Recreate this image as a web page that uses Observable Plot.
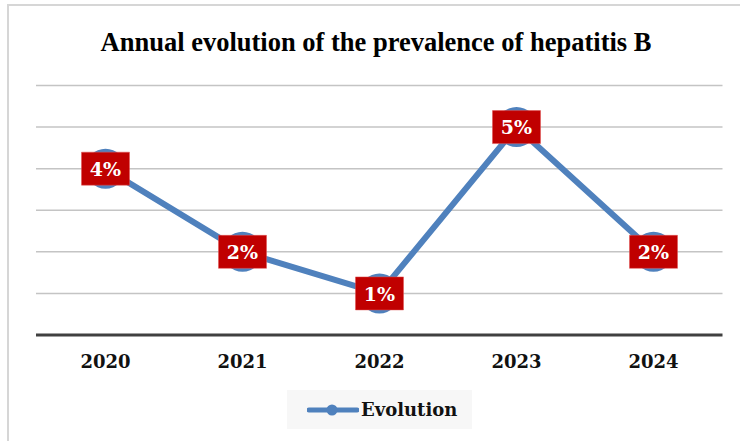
<!DOCTYPE html>
<html>
<head>
<meta charset="utf-8">
<script src="https://cdn.jsdelivr.net/npm/d3@7"></script>
<script src="https://cdn.jsdelivr.net/npm/@observablehq/plot@0.6"></script>
<style>
  html, body { margin: 0; padding: 0; background: #fff; }
  #wrap { position: relative; width: 740px; height: 441px; overflow: hidden; background: #fff; }
  #frame { position: absolute; left: 7px; top: 4px; width: 760px; height: 460px; border-left: 2px solid #d6d6d6; border-top: 2px solid #d6d6d6; pointer-events: none; }
  #title { height: 72px; box-sizing: border-box; padding-top: 27px; text-align: center; font-family: "Liberation Serif", serif; font-weight: bold; font-size: 26.5px; line-height: 30px; color: #000; padding-left: 12px; }
  #chart svg { display: block; }
  #legend { position: absolute; left: 287px; top: 390px; width: 185px; height: 39px; background: #f7f7f7; display: flex; align-items: center; }
  #legend span { font-family: "DejaVu Serif", serif; font-weight: bold; font-size: 18px; color: #111; margin-left: 2px; }
  #legend svg { margin-left: 20px; display: block; }
</style>
</head>
<body>
<div id="wrap">
  <div id="title">Annual evolution of the prevalence of hepatitis B</div>
  <div id="chart"></div>
  <div id="legend"></div>
  <div id="frame"></div>
</div>
<script>
const years = ["2020", "2021", "2022", "2023", "2024"];
const values = [4, 2, 1, 5, 2];
const labels = ["4%", "2%", "1%", "5%", "2%"];
const gridValues = [1, 2, 3, 4, 5, 6];
const seriesName = "Evolution";

const data = years.map((y, i) => ({year: y, value: values[i], label: labels[i]}));

const lineColor = "#4F81BD";
const boxSymbol = {
  draw(context) {
    context.moveTo(-24, -16.5);
    context.lineTo(24, -16.5);
    context.lineTo(24, 16.5);
    context.lineTo(-24, 16.5);
    context.closePath();
  }
};

const chart = Plot.plot({
  width: 740,
  height: 310,
  marginLeft: 36,
  marginRight: 17.5,
  marginTop: 13,
  marginBottom: 47.5,
  x: {type: "point", domain: years, padding: 0.5},
  y: {domain: [0, 6], axis: null},
  style: {background: "transparent"},
  marks: [
    Plot.ruleY(gridValues, {stroke: "#c4c4c4", strokeWidth: 1.5}),
    Plot.ruleY([0], {stroke: "#404040", strokeWidth: 3}),
    Plot.axisX({tickSize: 0, tickPadding: 20, fontSize: 18, fontWeight: "bold", fontFamily: "DejaVu Serif", fill: "#111", label: null}),
    Plot.line(data, {x: "year", y: "value", stroke: lineColor, strokeWidth: 6, strokeLinejoin: "round"}),
    Plot.dot(data, {x: "year", y: "value", r: 20, fill: lineColor, stroke: "none"}),
    Plot.dot(data, {x: "year", y: "value", symbol: boxSymbol, r: 10, fill: "#C00000", stroke: "#e05050", strokeWidth: 0.5}),
    Plot.text(data, {x: "year", y: "value", text: "label", fill: "white", fontSize: 19, fontWeight: "bold", fontFamily: "DejaVu Serif", dy: 1})
  ]
});
document.getElementById("chart").appendChild(chart);

// legend swatch (line with marker) + name
const legend = d3.select("#legend");
const sw = legend.append("svg").attr("width", 52).attr("height", 14);
sw.append("line").attr("x1", 2).attr("x2", 50).attr("y1", 7).attr("y2", 7)
  .attr("stroke", lineColor).attr("stroke-width", 5).attr("stroke-linecap", "round");
sw.append("circle").attr("cx", 25).attr("cy", 7).attr("r", 5.5).attr("fill", lineColor);
legend.append("span").text(seriesName);
</script>
</body>
</html>
